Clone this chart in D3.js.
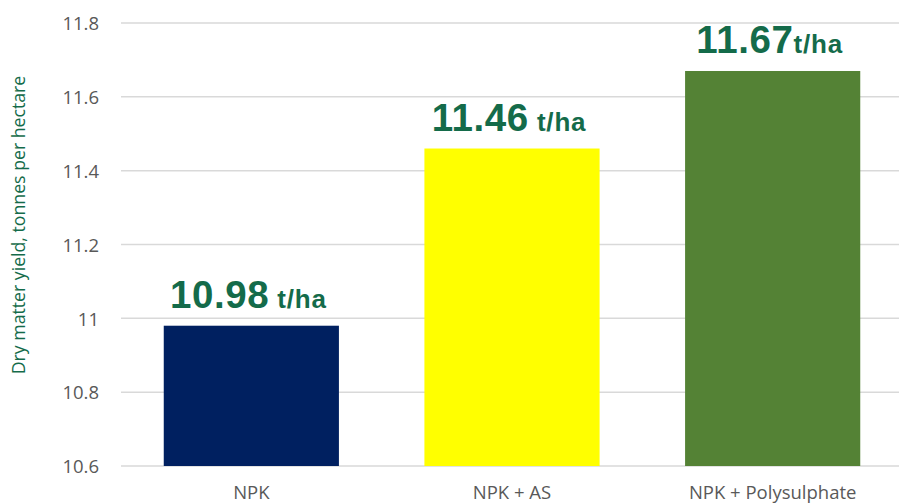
<!DOCTYPE html>
<html>
<head>
<meta charset="utf-8">
<script src="https://cdn.jsdelivr.net/npm/d3@7/dist/d3.min.js"></script>
<style>
  html, body { margin: 0; padding: 0; background: #fff; }
  svg { display: block; }
</style>
</head>
<body>
<svg id="chart" width="899" height="503"></svg>
<script>
const categories = ["NPK", "NPK + AS", "NPK + Polysulphate"];
const values = [10.98, 11.46, 11.67];
const valueNumbers = ["10.98", "11.46", "11.67"];
const valueUnits = [" t/ha", " t/ha", "t/ha"];
const barColors = ["#002060", "#FFFF00", "#548235"];
const yTicks = [10.6, 10.8, 11, 11.2, 11.4, 11.6, 11.8];
const yTickLabels = ["10.6", "10.8", "11", "11.2", "11.4", "11.6", "11.8"];
const yTitle = "Dry matter yield, tonnes per hectare";

const svg = d3.select("#chart");
const W = 899, H = 503;
const plot = { left: 121, right: 903, top: 23, bottom: 466 };

const x = d3.scaleBand().domain(categories).range([plot.left, plot.right])
  .paddingInner(0.328).paddingOuter(0.164);
const y = d3.scaleLinear().domain([10.6, 11.8]).range([plot.bottom, plot.top]);

// gridlines
svg.append("g").selectAll("line").data(yTicks).join("line")
  .attr("x1", plot.left).attr("x2", W)
  .attr("y1", d => y(d)).attr("y2", d => y(d))
  .attr("stroke", "#d9d9d9").attr("stroke-width", 1.5);

// y axis labels
const yAxis = d3.axisLeft(y).tickValues(yTicks)
  .tickFormat((d, i) => yTickLabels[i]).tickSize(0).tickPadding(0);
const gy = svg.append("g").attr("transform", `translate(99,0)`).call(yAxis);
gy.select(".domain").remove();
gy.selectAll("text").attr("font-family", "'Open Sans', sans-serif")
  .attr("font-size", 18.5).attr("fill", "#595959").attr("dy", "0.36em");

// bars
svg.append("g").selectAll("rect").data(values).join("rect")
  .attr("x", (d, i) => x(categories[i]))
  .attr("width", x.bandwidth())
  .attr("y", d => y(d))
  .attr("height", d => y(10.6) - y(d))
  .attr("fill", (d, i) => barColors[i]);

// x axis labels
const xAxis = d3.axisBottom(x).tickSize(0).tickPadding(0);
const gx = svg.append("g").attr("transform", `translate(0,${plot.bottom})`).call(xAxis);
gx.select(".domain").remove();
gx.selectAll("text").attr("font-family", "'Open Sans', sans-serif")
  .attr("font-size", 18.5).attr("fill", "#595959").attr("y", 33).attr("dy", 0);

// value labels
const lbl = svg.append("g").selectAll("text").data(values).join("text")
  .attr("x", (d, i) => x(categories[i]) + x.bandwidth() / 2 - 3)
  .attr("y", d => y(d) - 18)
  .attr("text-anchor", "middle")
  .attr("font-family", "'Liberation Sans', Arial, sans-serif")
  .attr("font-weight", "bold")
  .attr("fill", "#146B4A");
lbl.append("tspan").attr("font-size", 38.5).attr("letter-spacing", 0.6)
  .text((d, i) => valueNumbers[i]);
lbl.append("tspan").attr("font-size", 26).attr("letter-spacing", 0.8)
  .text((d, i) => valueUnits[i]);

// y title
svg.append("text")
  .attr("transform", `translate(25,225) rotate(-90)`)
  .attr("text-anchor", "middle")
  .attr("font-family", "'Open Sans', sans-serif")
  .attr("font-size", 17.7)
  .attr("fill", "#146B4A")
  .text(yTitle);
</script>
</body>
</html>
